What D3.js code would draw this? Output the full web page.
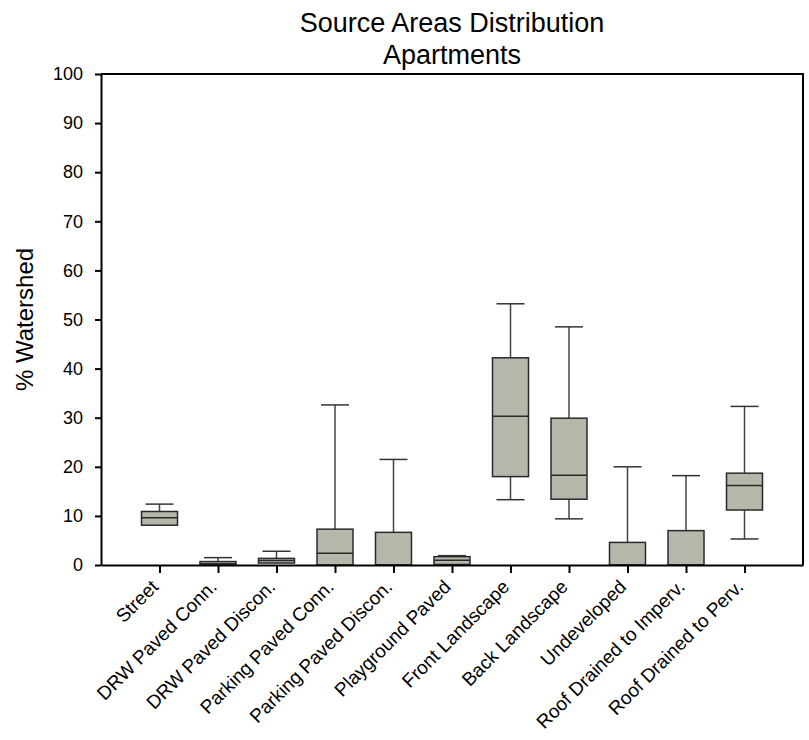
<!DOCTYPE html>
<html>
<head>
<meta charset="utf-8">
<script src="https://cdn.jsdelivr.net/npm/d3@7"></script>
<style>
  body { margin: 0; background: #fff; }
  svg { display: block; font-family: Arial, "Liberation Sans", sans-serif; }
</style>
</head>
<body>
<div id="chart-area"></div>
<script>
// values
const categories = ["Street", "DRW Paved Conn.", "DRW Paved Discon.", "Parking Paved Conn.",
  "Parking Paved Discon.", "Playground Paved", "Front Landscape", "Back Landscape",
  "Undeveloped", "Roof Drained to Imperv.", "Roof Drained to Perv."];
const whiskerLow  = [8.1, 0,    0.4,  0,    0,    0.1,  13.3, 9.4,  0,   0,    5.3];
const quartile1   = [8.1, 0,    0.4,  0,    0,    0.1,  18.0, 13.4, 0,   0,    11.2];
const medians     = [9.6, 0.25, 0.9,  2.4,  0,    0.95, 30.3, 18.3, 0,   0,    16.2];
const quartile3   = [10.9, 0.7, 1.35, 7.3,  6.65, 1.7,  42.2, 29.9, 4.6, 7.0,  18.7];
const whiskerHigh = [12.4, 1.5, 2.8,  32.6, 21.5, 1.9,  53.2, 48.5, 20.0, 18.2, 32.3];
const yTicks = [0, 10, 20, 30, 40, 50, 60, 70, 80, 90, 100];

BoxPlot = function(_parentElement){
  this.parentElement = _parentElement;
  this.initVis();
};

BoxPlot.prototype.initVis = function(){
  let vis = this;

  vis.margin = { left: 101, right: 6, top: 74, bottom: 175 };
  vis.width = 809 - vis.margin.left - vis.margin.right;
  vis.height = 740 - vis.margin.top - vis.margin.bottom;

  vis.svg = d3.select(vis.parentElement)
    .append("svg")
      .attr("width", 809)
      .attr("height", 740);

  vis.g = vis.svg.append("g")
    .attr("transform", "translate(" + vis.margin.left + "," + vis.margin.top + ")");

  vis.x = d3.scalePoint()
    .domain(categories)
    .range([0, vis.width])
    .padding(1);

  vis.y = d3.scaleLinear()
    .domain([0, 100])
    .range([vis.height, 0]);

  // frame (top and right)
  vis.g.append("path")
    .attr("d", "M0,0H" + vis.width + "V" + vis.height)
    .attr("fill", "none")
    .attr("stroke", "#000")
    .attr("stroke-width", 2);

  // Y axis
  vis.yAxisGroup = vis.g.append("g")
    .attr("class", "y axis")
    .call(d3.axisLeft(vis.y).tickValues(yTicks).tickSize(6).tickSizeOuter(0).tickPadding(12));

  // X axis
  vis.xAxisGroup = vis.g.append("g")
    .attr("class", "x axis")
    .attr("transform", "translate(0," + vis.height + ")")
    .call(d3.axisBottom(vis.x).tickSize(8).tickSizeOuter(0).tickFormat(""));

  vis.svg.selectAll(".axis path, .axis line")
    .attr("stroke", "#000")
    .attr("stroke-width", 2);

  vis.yAxisGroup.selectAll("text")
    .attr("font-size", "18px")
    .attr("font-family", "Arial, 'Liberation Sans', sans-serif")
    .attr("fill", "#000");

  // rotated category labels
  vis.g.selectAll(".cat-label")
    .data(categories)
    .enter()
    .append("text")
    .attr("class", "cat-label")
    .attr("transform", d => "translate(" + vis.x(d) + "," + (vis.height + 23) + ") rotate(-45)")
    .attr("text-anchor", "end")
    .attr("font-size", "19px")
    .text(d => d);

  // Y label
  vis.svg.append("text")
    .attr("transform", "translate(33," + (vis.margin.top + vis.height / 2) + ") rotate(-90)")
    .attr("text-anchor", "middle")
    .attr("font-size", "24px")
    .text("% Watershed");

  // title
  vis.svg.append("text")
    .attr("x", vis.margin.left + vis.width / 2)
    .attr("y", 32)
    .attr("text-anchor", "middle")
    .attr("font-size", "27px")
    .text("Source Areas Distribution");

  vis.svg.append("text")
    .attr("x", vis.margin.left + vis.width / 2)
    .attr("y", 64)
    .attr("text-anchor", "middle")
    .attr("font-size", "27px")
    .text("Apartments");

  vis.updateVis();
};

BoxPlot.prototype.updateVis = function(){
  let vis = this;

  let boxData = categories.map((c, i) => ({
    name: c,
    low: whiskerLow[i],
    q1: quartile1[i],
    med: medians[i],
    q3: quartile3[i],
    high: whiskerHigh[i]
  }));

  let boxW = 36;
  let capW = 28;

  let boxes = vis.g.selectAll(".box")
    .data(boxData)
    .enter()
    .append("g")
    .attr("class", "box")
    .attr("transform", d => "translate(" + vis.x(d.name) + ",0)");

  // upper whisker
  boxes.filter(d => d.high > d.q3)
    .append("line")
    .attr("y1", d => vis.y(d.q3))
    .attr("y2", d => vis.y(d.high))
    .attr("stroke", "#444")
    .attr("stroke-width", 1.5);

  boxes.filter(d => d.high > d.q3)
    .append("line")
    .attr("x1", -capW / 2)
    .attr("x2", capW / 2)
    .attr("y1", d => vis.y(d.high))
    .attr("y2", d => vis.y(d.high))
    .attr("stroke", "#333")
    .attr("stroke-width", 1.5);

  // lower whisker
  boxes.filter(d => d.low < d.q1)
    .append("line")
    .attr("y1", d => vis.y(d.q1))
    .attr("y2", d => vis.y(d.low))
    .attr("stroke", "#444")
    .attr("stroke-width", 1.5);

  boxes.filter(d => d.low < d.q1)
    .append("line")
    .attr("x1", -capW / 2)
    .attr("x2", capW / 2)
    .attr("y1", d => vis.y(d.low))
    .attr("y2", d => vis.y(d.low))
    .attr("stroke", "#333")
    .attr("stroke-width", 1.5);

  // box
  boxes.append("rect")
    .attr("x", -boxW / 2)
    .attr("width", boxW)
    .attr("y", d => vis.y(d.q3))
    .attr("height", d => vis.y(d.q1) - vis.y(d.q3))
    .attr("fill", "#b6b6aa")
    .attr("stroke", "#2a2a2a")
    .attr("stroke-width", 1.5);

  // median
  boxes.append("line")
    .attr("x1", -boxW / 2)
    .attr("x2", boxW / 2)
    .attr("y1", d => vis.y(d.med))
    .attr("y2", d => vis.y(d.med))
    .attr("stroke", "#2a2a2a")
    .attr("stroke-width", 1.5);

  // keep the x axis on top of the boxes
  vis.xAxisGroup.raise();
};

new BoxPlot("#chart-area");
</script>
</body>
</html>
